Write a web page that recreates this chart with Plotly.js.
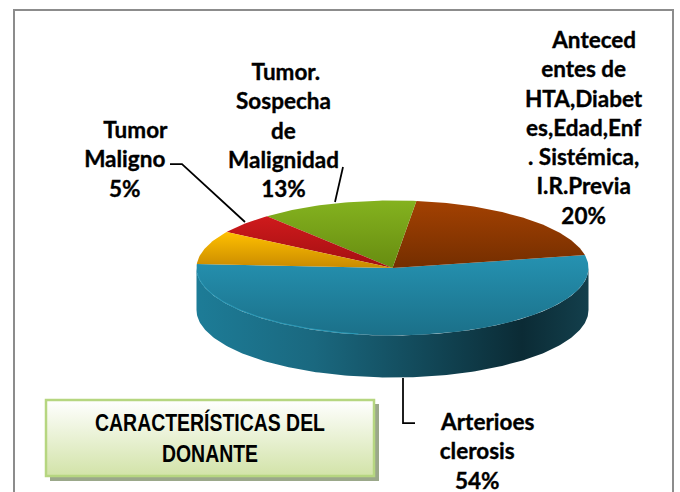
<!DOCTYPE html>
<html><head><meta charset="utf-8">
<script src="https://cdn.plot.ly/plotly-3.0.1.min.js"></script>
<style>html,body{margin:0;padding:0;background:#fff}#c{width:680px;height:492px}</style>
</head><body><div id="c"></div>
<script>
// ---- data
const categories = ["Arterioesclerosis","Antecedentes","Tumor. Sospecha","Tumor Maligno","Otros"];
const values = [54,20,13,5,8];
const labelLines = [
  ["\u00A0\u00A0\u00A0\u00A0Arterioes","clerosis"],
  ["\u00A0\u00A0\u00A0\u00A0Anteced","entes de","HTA,Diabet","es,Edad,Enf",". Sistémica,","I.R.Previa"],
  ["\u00A0Tumor.","Sospecha","de","Malignidad"],
  ["\u00A0\u00A0\u00A0\u00A0Tumor","Maligno"],
  null
];
const topColors = ["#2592b1","#a34102","#84b21f","#cf1a1c","#ffc000"];
const botColors = ["#1b7089","#742e00","#678c10","#a30f12","#c98a00"];
const titleText = "CARACTERÍSTICAS DEL<br>DONANTE";

// ---- geometry
const CX=392.5, CY=268, RX=196, RY=67.5, DEPTH=42, END_DEG=11;
const FONT="Lato, Carlito, 'Open Sans', sans-serif";
const total = values.reduce((a,b)=>a+b,0);
function pt(deg,dy){const r=deg*Math.PI/180;return [CX+RX*Math.cos(r), CY-RY*Math.sin(r)+(dy||0)];}
function arc(a,b,dy){const out=[],n=Math.max(2,Math.ceil(Math.abs(b-a)));for(let i=0;i<=n;i++)out.push(pt(a+(b-a)*i/n,dy));return out;}

const traces=[];
function poly(points,grad){
  traces.push({type:"scatter",mode:"lines",x:points.map(p=>p[0]),y:points.map(p=>p[1]),
    fill:"toself",line:{width:0,color:"rgba(0,0,0,0)"},fillgradient:grad,hoverinfo:"skip",showlegend:false});
}
// reversed y axis: the gradient's first stop lands at the bottom of the shape
function vgrad(top,bot){return {type:"vertical",colorscale:[[0,bot],[1,top]]};}

// ---- title box (gradient)
poly([[46,400],[374,400],[374,476],[46,476],[46,400]],vgrad("#ffffff","#d2e3a8"));

// ---- rim under the first slice (visible side)
poly(arc(180,360,0).concat(arc(360,180,DEPTH)),
  {type:"horizontal",colorscale:[[0,"#1d7c97"],[0.3,"#1a687f"],[0.55,"#134c5d"],[0.83,"#0b2b35"],[1,"#133f4c"]]});

// ---- top face slices: the first slice ends at END_DEG, the others follow counter-clockwise
const startDeg = END_DEG - values[0]/total*360;
let cum=0;
values.forEach((v,i)=>{
  const a0=startDeg+cum/total*360; cum+=v; const a1=startDeg+cum/total*360;
  const p=[[CX,CY]].concat(arc(a0,a1)).concat([[CX,CY]]);
  poly(p,vgrad(topColors[i],botColors[i]));
});
// bevel highlight on the lower edge of the first slice
const hl=arc(-175,-100,-0.5);
traces.push({type:"scatter",mode:"lines",x:hl.map(p=>p[0]),y:hl.map(p=>p[1]),line:{color:"#2b9ab8",width:1},hoverinfo:"skip",showlegend:false});

// ---- labels
const pos=[[477,451],[583.5,127],[283,130],[124.5,159]];
const annotations=[];
labelLines.forEach((l,i)=>{
  if(!l)return;
  annotations.push({x:pos[i][0],y:pos[i][1],xref:"x",yref:"y",showarrow:false,xanchor:"center",yanchor:"middle",align:"center",
    text:l.concat([values[i]+"%"]).join("<br>"),font:{family:FONT,size:22.5,color:"#000",weight:700}});
});
annotations.push({x:210,y:438,xref:"x",yref:"y",showarrow:false,xanchor:"center",yanchor:"middle",align:"center",
  text:titleText,font:{family:"'Liberation Sans',sans-serif",size:24,color:"#000",weight:700}});

const lead={color:"#000",width:1.75};
const shapes=[
  {type:"rect",xref:"x",yref:"y",x0:50,x1:379,y0:404,y1:481,fillcolor:"#9ba88a",line:{width:0},layer:"below"},
  {type:"rect",xref:"x",yref:"y",x0:46,x1:374,y0:400,y1:476,line:{color:"#b6d680",width:2.5},fillcolor:"rgba(0,0,0,0)",layer:"above"},
  {type:"path",xref:"x",yref:"y",path:"M170,164 L182,164 L245,222",line:lead},
  {type:"path",xref:"x",yref:"y",path:"M343,167 L335,202",line:lead},
  {type:"path",xref:"x",yref:"y",path:"M403,378 L403,423 L415,423",line:lead},
  {type:"path",xref:"x",yref:"y",path:"M14,520 L14,10 L673,10 L673,520",line:{color:"#8c8c8c",width:2}}
];

Plotly.newPlot("c",traces,{
  width:680,height:492,margin:{l:0,r:0,t:0,b:0},paper_bgcolor:"#fff",plot_bgcolor:"#fff",showlegend:false,
  xaxis:{range:[0,680],visible:false,fixedrange:true},
  yaxis:{range:[492,0],visible:false,fixedrange:true},
  annotations,shapes
},{displayModeBar:false,staticPlot:true}).then(()=>{
  const t=[...document.querySelectorAll(".annotation-text")];
  // slice labels are heavier than the installed bold: thicken the real text slightly
  t.slice(0,-1).forEach(el=>{el.style.stroke="#000";el.style.strokeWidth="0.35px";});
  // the box title is set in a condensed bold face: squeeze the real text horizontally
  const el=t[t.length-1];
  el.style.transformBox="fill-box";
  el.style.transformOrigin="center";
  el.style.transform="scaleX(0.81)";
});
</script></body></html>
